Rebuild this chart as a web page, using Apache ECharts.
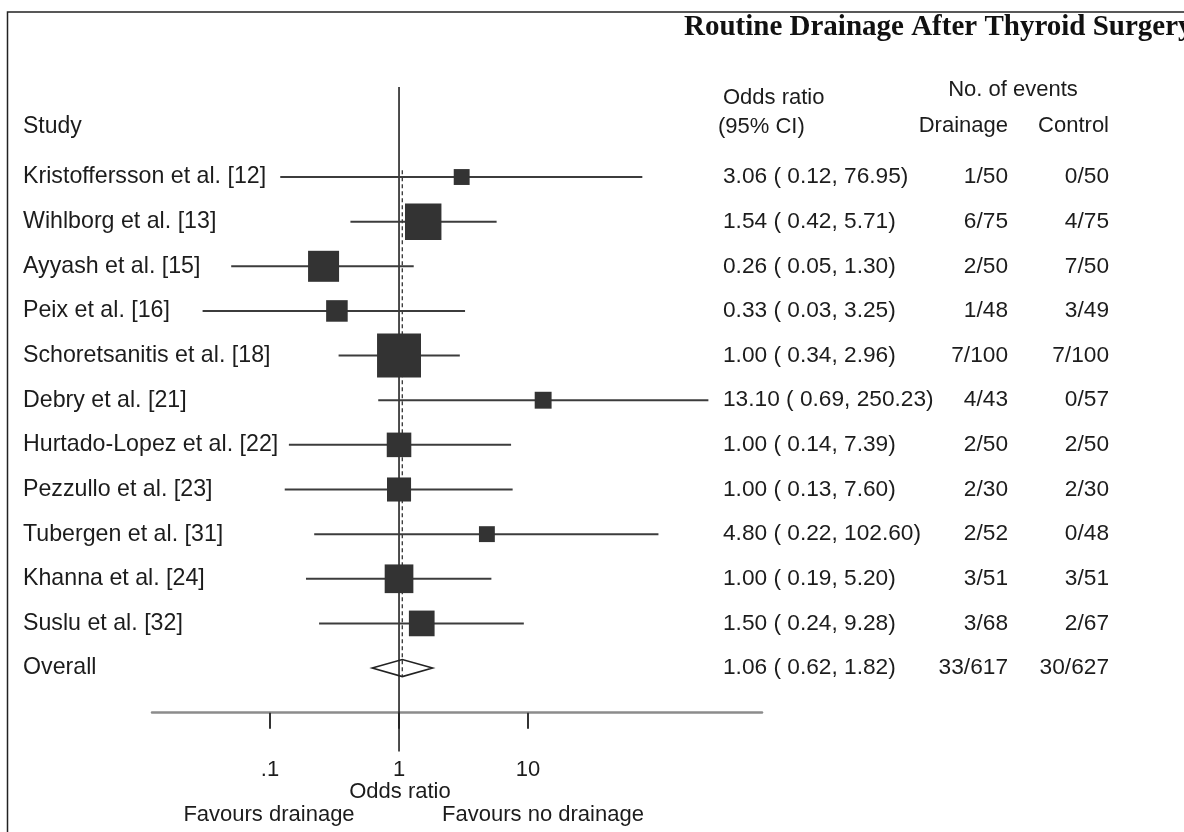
<!DOCTYPE html>
<html>
<head>
<meta charset="utf-8">
<title>Routine Drainage After Thyroid Surgery</title>
<script src="https://cdn.jsdelivr.net/npm/echarts@6/dist/echarts.min.js"></script>
<style>
  html, body { margin: 0; padding: 0; background: #ffffff; }
  #chart { width: 1184px; height: 832px; }
</style>
</head>
<body>
<div id="chart"></div>
<script>
// ---------------- data ----------------
const studies = [
  'Kristoffersson et al. [12]',
  'Wihlborg et al. [13]',
  'Ayyash et al. [15]',
  'Peix et al. [16]',
  'Schoretsanitis et al. [18]',
  'Debry et al. [21]',
  'Hurtado-Lopez et al. [22]',
  'Pezzullo et al. [23]',
  'Tubergen et al. [31]',
  'Khanna et al. [24]',
  'Suslu et al. [32]'
];
const oddsRatio = [3.06, 1.54, 0.26, 0.33, 1.00, 13.10, 1.00, 1.00, 4.80, 1.00, 1.50];
const ciLow     = [0.12, 0.42, 0.05, 0.03, 0.34, 0.69, 0.14, 0.13, 0.22, 0.19, 0.24];
const ciHigh    = [76.95, 5.71, 1.30, 3.25, 2.96, 250.23, 7.39, 7.60, 102.60, 5.20, 9.28];
// estimated study weights (%)
const weights   = [3.1, 16.3, 11.8, 5.7, 23.7, 3.5, 7.4, 7.1, 3.1, 10.1, 8.1];
const drainEvents = [1, 6, 2, 1, 7, 4, 2, 2, 2, 3, 3];
const drainTotal  = [50, 75, 50, 48, 100, 43, 50, 30, 52, 51, 68];
const ctrlEvents  = [0, 4, 7, 3, 7, 0, 2, 2, 0, 3, 2];
const ctrlTotal   = [50, 75, 50, 49, 100, 57, 50, 30, 48, 51, 67];

const overallLabel = 'Overall';
const overallOR   = 1.06;
const overallLow  = 0.62;
const overallHigh = 1.82;
const overallDrain = '33/617';
const overallCtrl  = '30/627';

const xTickValues = [0.1, 1, 10];
const xTickLabels = ['.1', '1', '10'];

// ---------------- helpers ----------------
const FONT = '"Liberation Sans", Arial, Helvetica, sans-serif';
const TEXT = '#1c1c1c';
const rowLabels = studies.concat([overallLabel]);
const fmt = (v) => v.toFixed(2);
const orText = (o, l, h) => fmt(o) + ' ( ' + fmt(l) + ', ' + fmt(h) + ')';

const tableRows = studies.map((s, i) => ({
  value: [1, i],
  orStr: orText(oddsRatio[i], ciLow[i], ciHigh[i]),
  dStr: drainEvents[i] + '/' + drainTotal[i],
  cStr: ctrlEvents[i] + '/' + ctrlTotal[i]
}));
tableRows.push({
  value: [1, studies.length],
  orStr: orText(overallOR, overallLow, overallHigh),
  dStr: overallDrain,
  cStr: overallCtrl
});

function txt(x, y, s, align, opts) {
  opts = opts || {};
  return {
    type: 'text',
    style: {
      x: x, y: y, text: s,
      fill: opts.fill || TEXT,
      font: opts.font || ('22px ' + FONT),
      align: align, textAlign: align,
      verticalAlign: 'middle', textVerticalAlign: 'middle'
    },
    silent: true
  };
}

const NUM_FONT = '22.7px ' + FONT;

const chart = echarts.init(document.getElementById('chart'), null, { renderer: 'canvas' });

const option = {
  animation: false,
  backgroundColor: '#ffffff',
  grid: { left: 152, top: 154.7, width: 610, height: 558, containLabel: false },
  xAxis: {
    type: 'log',
    logBase: 10,
    position: 'bottom',
    min: 0.01216,
    max: 651.6,
    axisLine: { show: true, onZero: false, lineStyle: { color: '#8c8c8c', width: 2.5 } },
    axisTick: { show: true, length: 16, customValues: xTickValues, lineStyle: { color: '#333333', width: 2 } },
    axisLabel: {
      show: true,
      customValues: xTickValues,
      margin: 46,
      fontSize: 22,
      fontFamily: FONT,
      color: TEXT,
      formatter: function (v) {
        for (let k = 0; k < xTickValues.length; k++) {
          if (Math.abs(Math.log10(v) - Math.log10(xTickValues[k])) < 1e-6) return xTickLabels[k];
        }
        return '';
      }
    },
    splitLine: { show: false },
    minorTick: { show: false }
  },
  yAxis: {
    type: 'value',
    inverse: true,
    min: -0.5,
    max: 12,
    axisLine: { show: false },
    axisTick: { show: false },
    splitLine: { show: false },
    axisLabel: {
      show: true,
      customValues: rowLabels.map((s, i) => i),
      align: 'left',
      margin: 129,
      fontSize: 23.2,
      fontFamily: FONT,
      color: TEXT,
      formatter: function (v) { return rowLabels[Math.round(v)] || ''; }
    }
  },
  series: [
    // reference lines: solid at OR = 1, dashed at overall OR
    {
      type: 'custom',
      clip: false,
      z: 1,
      data: [[1, 0], [overallOR, 1]],
      renderItem: function (params, api) {
        const xv = api.value(0);
        const dashed = api.value(1) === 1;
        const p1 = api.coord([xv, dashed ? -0.15 : -2.016]);
        const p2 = api.coord([xv, dashed ? 11.2 : 12.87]);
        return {
          type: 'line',
          shape: { x1: p1[0], y1: p1[1], x2: p2[0], y2: p2[1] },
          style: dashed
            ? { stroke: '#333333', lineWidth: 1.3, lineDash: [4, 3] }
            : { stroke: '#222222', lineWidth: 1.6 }
        };
      }
    },
    // confidence intervals
    {
      type: 'custom',
      clip: false,
      z: 2,
      encode: { x: [0, 1], y: 2 },
      data: studies.map((s, i) => [ciLow[i], ciHigh[i], i]),
      renderItem: function (params, api) {
        const a = api.coord([api.value(0), api.value(2)]);
        const b = api.coord([api.value(1), api.value(2)]);
        return {
          type: 'line',
          shape: { x1: a[0], y1: a[1], x2: b[0], y2: b[1] },
          style: { stroke: '#3c3c3c', lineWidth: 2 }
        };
      }
    },
    // study point estimates (box area ~ weight)
    {
      type: 'scatter',
      z: 3,
      symbol: 'rect',
      symbolSize: function (val) { return Math.sqrt(val[2] * 81.5); },
      itemStyle: { color: '#333333', opacity: 1 },
      data: studies.map((s, i) => [oddsRatio[i], i, weights[i]])
    },
    // overall diamond
    {
      type: 'custom',
      clip: false,
      z: 2,
      encode: { x: [0, 1, 2], y: 3 },
      data: [[overallOR, overallLow, overallHigh, studies.length]],
      renderItem: function (params, api) {
        const row = api.value(3);
        const c = api.coord([api.value(0), row]);
        const l = api.coord([api.value(1), row]);
        const r = api.coord([api.value(2), row]);
        const h = 8.5;
        return {
          type: 'polygon',
          shape: { points: [[l[0], c[1]], [c[0], c[1] - h], [r[0], c[1]], [c[0], c[1] + h]] },
          style: { fill: 'rgba(0,0,0,0)', stroke: '#222222', lineWidth: 1.6 }
        };
      }
    },
    // right-hand table columns
    {
      type: 'custom',
      clip: false,
      z: 5,
      data: tableRows,
      renderItem: function (params, api) {
        const row = tableRows[params.dataIndex];
        const y = api.coord([1, api.value(1)])[1];
        return {
          type: 'group',
          children: [
            txt(723, y, row.orStr, 'left', { font: NUM_FONT }),
            txt(1008, y, row.dStr, 'right', { font: NUM_FONT }),
            txt(1109, y, row.cStr, 'right', { font: NUM_FONT })
          ]
        };
      }
    }
  ],
  graphic: [
    {
      type: 'rect',
      silent: true,
      shape: { x: 7.5, y: 12, width: 1400, height: 1000 },
      style: { fill: 'rgba(0,0,0,0)', stroke: '#222222', lineWidth: 1.5 }
    },
    txt(684, 28, 'Routine Drainage After Thyroid Surgery', 'left',
        { font: 'bold 29px "Liberation Serif", "Times New Roman", serif', fill: '#111111' }),
    txt(23, 127, 'Study', 'left', { font: '23px ' + FONT }),
    txt(723, 98, 'Odds ratio', 'left'),
    txt(718, 127, '(95% CI)', 'left'),
    txt(1013, 90, 'No. of events', 'center'),
    txt(1008, 126, 'Drainage', 'right'),
    txt(1109, 126, 'Control', 'right'),
    txt(400, 792, 'Odds ratio', 'center'),
    txt(269, 815, 'Favours drainage', 'center'),
    txt(543, 815, 'Favours no drainage', 'center')
  ]
};

chart.setOption(option);
</script>
</body>
</html>
